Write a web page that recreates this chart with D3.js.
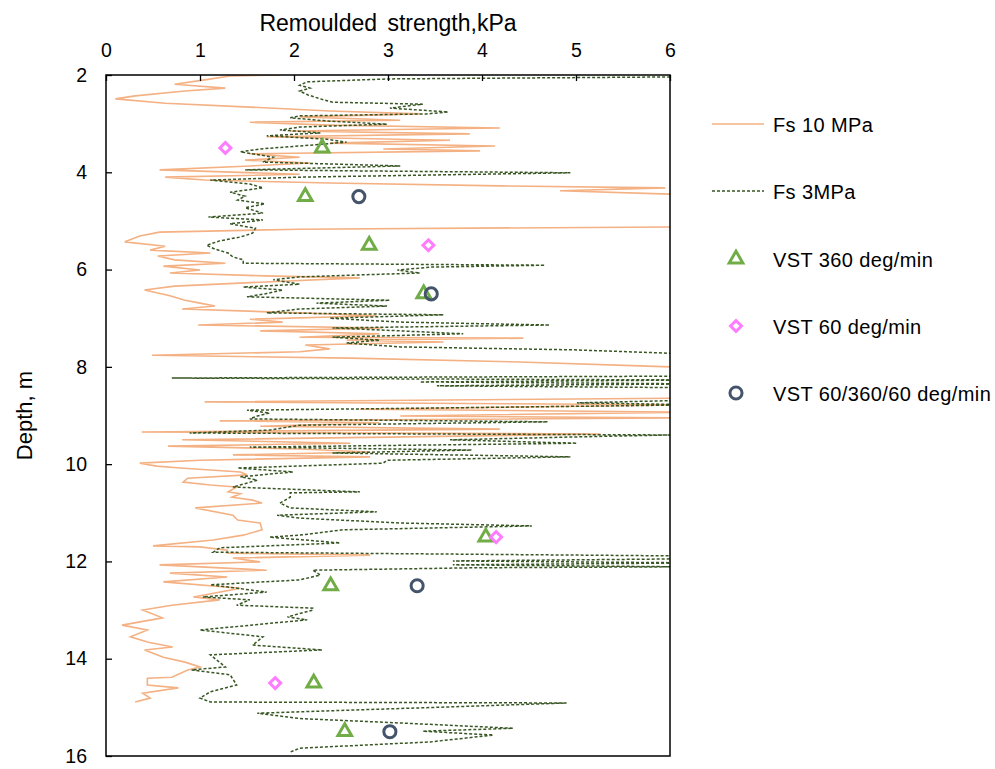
<!DOCTYPE html>
<html>
<head>
<meta charset="utf-8">
<script src="https://cdn.jsdelivr.net/npm/d3@7"></script>
<style>
  body { margin: 0; background: #fff; }
  text { font-family: "Liberation Sans", Arial, sans-serif; fill: #000; }
</style>
</head>
<body>
<div id="chart"></div>
<script>
// Fs 10 MPa profile: [depth m, remoulded strength kPa]
var fs10 = [
  [2.00,1.85],[2.02,1.32],[2.10,1.05],[2.19,0.73],[2.27,1.27],[2.33,0.84],[2.43,0.31],[2.49,0.10],
  [2.58,0.63],[2.66,1.53],[2.74,2.38],[2.80,3.34],[2.86,2.06],[2.93,3.13],[2.97,1.53],[3.03,2.38],
  [3.09,4.19],[3.15,1.96],[3.21,3.87],[3.27,1.71],[3.34,3.66],[3.40,2.38],[3.46,4.14],[3.52,2.95],
  [3.56,3.98],[3.62,1.53],[3.69,2.06],[3.75,1.48],[3.81,2.17],[3.87,1.53],[3.95,0.57],[4.04,2.06],
  [4.10,0.63],[4.16,1.05],[4.22,2.38],[4.28,4.19],[4.32,5.95],[4.38,4.83],[4.45,6.00],[4.51,6.32],
  [4.82,6.50],[5.12,6.32],[5.17,2.06],[5.23,0.57],[5.31,0.36],[5.43,0.20],[5.52,0.63],[5.60,0.47],
  [5.66,1.11],[5.72,0.55],[5.80,0.73],[5.87,1.27],[5.93,0.61],[6.01,1.00],[6.07,0.68],[6.13,1.69],
  [6.17,2.70],[6.26,1.64],[6.34,0.73],[6.42,0.41],[6.54,0.68],[6.63,0.84],[6.69,1.00],[6.75,1.16],
  [6.81,0.81],[6.89,2.06],[6.95,2.88],[7.02,1.53],[7.08,1.88],[7.14,0.98],[7.20,2.94],[7.26,1.64],
  [7.32,2.91],[7.39,2.06],[7.41,4.44],[7.45,2.56],[7.49,3.59],[7.55,2.12],[7.63,2.38],[7.69,2.06],
  [7.76,0.49],[7.82,2.60],[7.90,4.40],[7.98,5.68],[8.02,6.32],[8.37,6.50],[8.64,6.32],[8.72,1.05],
  [8.78,6.10],[8.87,2.70],[8.93,6.20],[9.01,3.13],[9.05,6.10],[9.11,1.21],[9.15,2.91],[9.22,1.64],
  [9.28,4.19],[9.34,0.38],[9.38,5.26],[9.44,3.20],[9.50,0.81],[9.57,2.60],[9.63,0.66],[9.69,2.06],
  [9.75,2.81],[9.81,1.35],[9.85,2.81],[9.92,1.00],[9.98,0.36],[10.04,0.54],[10.08,0.79],[10.16,1.43],
  [10.22,1.50],[10.29,0.87],[10.37,0.82],[10.43,1.11],[10.47,1.39],[10.57,1.30],[10.61,1.43],[10.68,1.34],
  [10.74,1.56],[10.80,1.66],[10.90,0.95],[11.05,1.35],[11.15,1.40],[11.21,1.64],[11.35,1.66],[11.46,1.46],
  [11.56,1.14],[11.68,0.50],[11.70,1.00],[11.77,1.29],[11.83,1.29],[11.87,2.81],[11.93,1.35],[12.01,1.64],
  [12.07,0.57],[12.18,1.71],[12.24,0.68],[12.32,1.29],[12.42,0.61],[12.55,1.43],[12.73,0.93],[12.79,1.21],
  [12.90,0.70],[13.00,0.39],[13.16,0.60],[13.31,0.17],[13.41,0.44],[13.55,0.26],[13.66,0.45],[13.76,0.71],
  [13.82,0.41],[13.97,0.61],[14.07,0.84],[14.17,1.00],[14.23,0.87],[14.38,0.70],[14.40,0.44],[14.54,0.44],
  [14.60,0.77],[14.71,0.39],[14.81,0.47],[14.89,0.31]
];

// Fs 3 MPa profile: [depth m, remoulded strength kPa]
var fs3 = [
  [2.00,6.32],[2.04,6.00],[2.08,3.02],[2.14,2.14],[2.21,2.06],[2.27,2.17],[2.33,2.06],[2.41,2.15],
  [2.49,2.28],[2.56,2.41],[2.60,3.37],[2.68,3.02],[2.76,3.64],[2.80,3.41],[2.84,2.06],[2.88,1.96],
  [2.95,2.38],[3.01,2.99],[3.07,2.06],[3.13,1.85],[3.19,2.28],[3.25,1.71],[3.32,2.35],[3.38,2.56],
  [3.46,2.06],[3.52,1.64],[3.58,1.43],[3.69,1.78],[3.79,1.67],[3.87,3.13],[3.95,1.48],[4.01,4.94],
  [4.10,2.06],[4.16,1.11],[4.24,1.53],[4.32,1.67],[4.41,1.32],[4.49,1.48],[4.57,1.40],[4.65,1.69],
  [4.73,1.48],[4.84,1.67],[4.92,1.09],[4.98,1.67],[5.06,1.32],[5.15,1.59],[5.25,1.56],[5.33,1.43],
  [5.41,1.21],[5.50,1.07],[5.58,1.16],[5.66,1.30],[5.74,1.35],[5.80,1.46],[5.87,1.46],[5.91,4.67],
  [5.95,3.45],[6.01,3.10],[6.07,3.34],[6.15,2.06],[6.21,1.78],[6.30,2.06],[6.36,1.46],[6.42,1.88],
  [6.50,1.69],[6.56,1.50],[6.63,3.02],[6.69,2.24],[6.75,2.99],[6.81,2.06],[6.89,1.71],[6.93,3.59],
  [7.00,2.38],[7.08,3.13],[7.14,4.72],[7.20,2.41],[7.26,3.13],[7.32,3.80],[7.39,2.41],[7.45,2.91],
  [7.51,2.56],[7.59,3.13],[7.65,4.97],[7.72,6.00],[7.76,6.32],[8.19,6.32],[8.23,0.70],[8.27,6.32],
  [8.31,3.34],[8.35,6.32],[8.39,3.52],[8.43,6.32],[8.68,6.32],[8.74,5.01],[8.78,6.32],[8.85,3.34],
  [8.89,1.50],[8.95,1.74],[9.01,1.61],[9.07,1.53],[9.13,4.70],[9.20,2.06],[9.30,1.74],[9.36,0.89],
  [9.40,6.00],[9.44,5.01],[9.50,3.66],[9.57,5.01],[9.65,1.53],[9.71,3.89],[9.77,2.41],[9.85,4.94],
  [9.92,2.99],[9.98,2.95],[10.08,1.40],[10.16,1.99],[10.26,1.43],[10.33,1.61],[10.47,1.35],[10.57,2.70],
  [10.59,1.96],[10.68,1.96],[10.80,1.85],[10.90,1.96],[10.98,2.88],[11.05,1.82],[11.11,2.06],[11.21,3.13],
  [11.27,4.53],[11.35,2.52],[11.46,2.06],[11.50,1.74],[11.62,2.49],[11.72,1.21],[11.81,1.14],[11.89,6.32],
  [11.95,5.97],[11.99,3.69],[12.03,6.32],[12.07,3.69],[12.11,6.10],[12.13,3.95],[12.18,2.20],[12.28,2.28],
  [12.38,2.06],[12.48,1.11],[12.63,1.71],[12.73,1.03],[12.79,1.53],[12.90,1.39],[12.96,2.20],[13.00,2.20],
  [13.14,1.93],[13.20,2.14],[13.41,1.00],[13.55,1.67],[13.72,1.56],[13.82,2.30],[13.92,1.11],[14.17,1.27],
  [14.23,0.91],[14.33,1.32],[14.54,1.39],[14.68,1.11],[14.81,1.00],[14.89,1.11],[14.91,4.90],[14.99,3.66],
  [15.12,1.61],[15.23,2.06],[15.33,3.23],[15.43,4.33],[15.49,3.37],[15.57,4.12],[15.71,3.45],[15.84,2.06],
  [15.92,1.96]
];

// Vane shear tests: [value kPa, depth m]
var vst360 = [[2.30,3.5],[2.12,4.5],[2.80,5.5],[3.38,6.5],[4.04,11.5],[2.39,12.5],[2.21,14.5],[2.54,15.5]];
var vst60 = [[1.27,3.5],[3.43,5.5],[4.15,11.5],[1.80,14.5]];
var vstMixed = [[2.69,4.5],[3.46,6.5],[3.31,12.5],[3.02,15.5]];

var xTicks = [0, 1, 2, 3, 4, 5, 6];
var yTicks = [2, 4, 6, 8, 10, 12, 14, 16];

var margin = {top: 75, right: 325, bottom: 13, left: 106},
    width = 995 - margin.left - margin.right,
    height = 769 - margin.top - margin.bottom;

var svg = d3.select("#chart").append("svg")
    .attr("width", 995)
    .attr("height", 769);

var g = svg.append("g")
    .attr("transform", "translate(" + margin.left + "," + margin.top + ")");

var x = d3.scaleLinear().domain([0, 6]).range([0, width]);
var y = d3.scaleLinear().domain([2, 16]).range([0, height]);

g.append("clipPath").attr("id", "plotclip")
  .append("rect").attr("width", width).attr("height", height);

// profiles
var line = d3.line()
    .x(function(d) { return x(d[1]); })
    .y(function(d) { return y(d[0]); });

g.append("path")
    .datum(fs10)
    .attr("clip-path", "url(#plotclip)")
    .attr("fill", "none")
    .attr("stroke", "#F4B183")
    .attr("stroke-width", 1.6)
    .attr("d", line);

g.append("path")
    .datum(fs3)
    .attr("clip-path", "url(#plotclip)")
    .attr("fill", "none")
    .attr("stroke", "#375623")
    .attr("stroke-width", 1.5)
    .attr("stroke-dasharray", "3,2")
    .attr("d", line);

// markers
var triangle = d3.symbol().type(d3.symbolTriangle).size(80);
var square = d3.symbol().type(d3.symbolSquare).size(60);
var circle = d3.symbol().type(d3.symbolCircle).size(115);

function drawMarkers(data, sym, color, rot) {
    g.selectAll(null)
        .data(data)
        .enter().append("path")
        .attr("d", sym)
        .attr("transform", function(d) {
            return "translate(" + x(d[0]) + "," + y(d[1]) + ")" + (rot ? " rotate(45)" : "");
        })
        .attr("fill", "none")
        .attr("stroke", color)
        .attr("stroke-width", 3);
}
drawMarkers(vst360, triangle, "#70AD47", false);
drawMarkers(vst60, square, "#FF7CFF", true);
drawMarkers(vstMixed, circle, "#44546A", false);

// frame
g.append("rect")
    .attr("width", width)
    .attr("height", height)
    .attr("fill", "none")
    .attr("stroke", "#000")
    .attr("stroke-width", 1.5);

// axes, ticks pointing inward
var xAxis = g.append("g")
    .call(d3.axisTop(x).tickValues(xTicks).tickFormat(d3.format("d"))
        .tickSizeInner(-6).tickSizeOuter(0).tickPadding(18));
var yAxis = g.append("g")
    .call(d3.axisLeft(y).tickValues(yTicks).tickFormat(d3.format("d"))
        .tickSizeInner(-6).tickSizeOuter(0).tickPadding(19));

[xAxis, yAxis].forEach(function(a) {
    a.select(".domain").remove();
    a.selectAll("line").attr("stroke", "#000").attr("stroke-width", 1.3);
    a.selectAll("text")
        .style("font-family", "'Liberation Sans', Arial, sans-serif")
        .style("font-size", "19.5px")
        .attr("fill", "#000");
});

// axis titles
svg.append("text")
    .attr("x", 388)
    .attr("y", 31)
    .attr("text-anchor", "middle")
    .style("font-size", "23px")
    .style("word-spacing", "4px")
    .text("Remoulded strength,kPa");

svg.append("text")
    .attr("transform", "translate(32," + (margin.top + height / 2) + ") rotate(-90)")
    .attr("text-anchor", "middle")
    .style("font-size", "22px")
    .text("Depth, m");

// legend
var legend = svg.append("g").attr("transform", "translate(712,0)");
var legendItems = [
    {label: "Fs 10 MPa", y: 124, kind: "solid"},
    {label: "Fs 3MPa", y: 191, kind: "dash"},
    {label: "VST 360 deg/min", y: 259, kind: "tri"},
    {label: "VST 60 deg/min", y: 326, kind: "dia"},
    {label: "VST 60/360/60 deg/min", y: 393, kind: "circ"}
];

legendItems.forEach(function(it) {
    if (it.kind == "solid" || it.kind == "dash") {
        legend.append("line")
            .attr("x1", 0).attr("x2", 52)
            .attr("y1", it.y).attr("y2", it.y)
            .attr("stroke", it.kind == "solid" ? "#F4B183" : "#375623")
            .attr("stroke-width", it.kind == "solid" ? 1.6 : 1.3)
            .attr("stroke-dasharray", it.kind == "dash" ? "3,2" : null);
    } else {
        var sym = it.kind == "tri" ? triangle : (it.kind == "dia" ? square : circle);
        var col = it.kind == "tri" ? "#70AD47" : (it.kind == "dia" ? "#FF7CFF" : "#44546A");
        legend.append("path")
            .attr("d", sym)
            .attr("transform", "translate(24," + it.y + ")" + (it.kind == "dia" ? " rotate(45)" : ""))
            .attr("fill", "none")
            .attr("stroke", col)
            .attr("stroke-width", 3);
    }
    legend.append("text")
        .attr("x", 61)
        .attr("y", it.y + 7.5)
        .style("font-size", "20px")
        .style("letter-spacing", "0.4px")
        .text(it.label);
});
</script>
</body>
</html>
